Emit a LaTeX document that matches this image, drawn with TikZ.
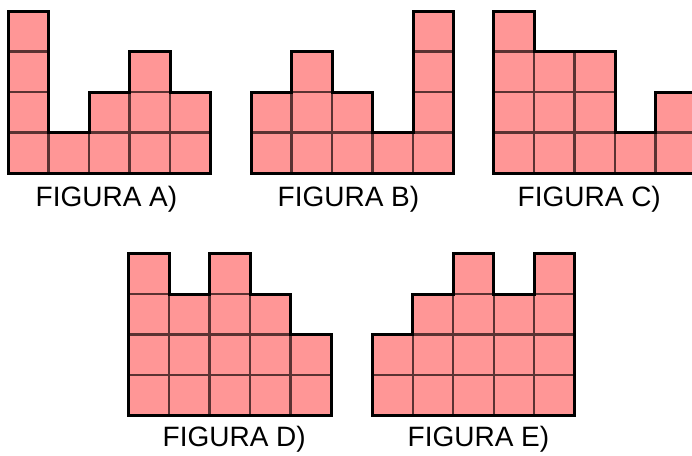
\documentclass[tikz,border=0pt]{standalone}
\usepackage{fontspec}
\setmainfont{Liberation Sans}
\definecolor{cellfill}{RGB}{255,150,150}
\definecolor{cellline}{RGB}{90,50,50}
\newcommand\figcols[7]{%
\begin{scope}[shift={(#1,#2)},x=40.5pt,y=40.5pt]
 \foreach \h [count=\i from 0] in {#3,#4,#5,#6,#7} {
   \foreach \j in {1,...,\h} \filldraw[cellstyle] (\i,\j-1) rectangle ++(1,1);
 }
 \draw[outlinestyle] (0,0) -- (0,#3) -- (1,#3) -- (1,#4) -- (2,#4) -- (2,#5) -- (3,#5) -- (3,#6) -- (4,#6) -- (4,#7) -- (5,#7) -- (5,0) -- cycle;
\end{scope}}
\begin{document}
\begin{tikzpicture}[x=1pt,y=-1pt,
  cellstyle/.style={fill=cellfill,draw=cellline,line width=2.3pt},
  outlinestyle/.style={draw=black,line width=3pt,line join=miter},
  labelstyle/.style={anchor=base west,inner sep=0pt,font=\fontsize{28}{31}\selectfont}]
\useasboundingbox (0,0) rectangle (692,455);
\clip (0,0) rectangle (692,455);
\figcols{8}{173}{4}{1}{2}{3}{2}
\figcols{251}{173}{2}{3}{2}{1}{4}
\figcols{493.5}{173}{4}{3}{3}{1}{2}
\figcols{128.5}{415.5}{4}{3}{4}{3}{2}
\figcols{372.3}{415.5}{2}{3}{4}{3}{4}
\node[labelstyle] (la) at (35.5,206) {FIGURA A)};
\node[labelstyle] (lb) at (277.5,206) {FIGURA B)};
\node[labelstyle] (lc) at (517.5,206) {FIGURA C)};
\node[labelstyle] (ld) at (162.5,446) {FIGURA D)};
\node[labelstyle] (le) at (407.5,446) {FIGURA E)};
\end{tikzpicture}
\end{document}
